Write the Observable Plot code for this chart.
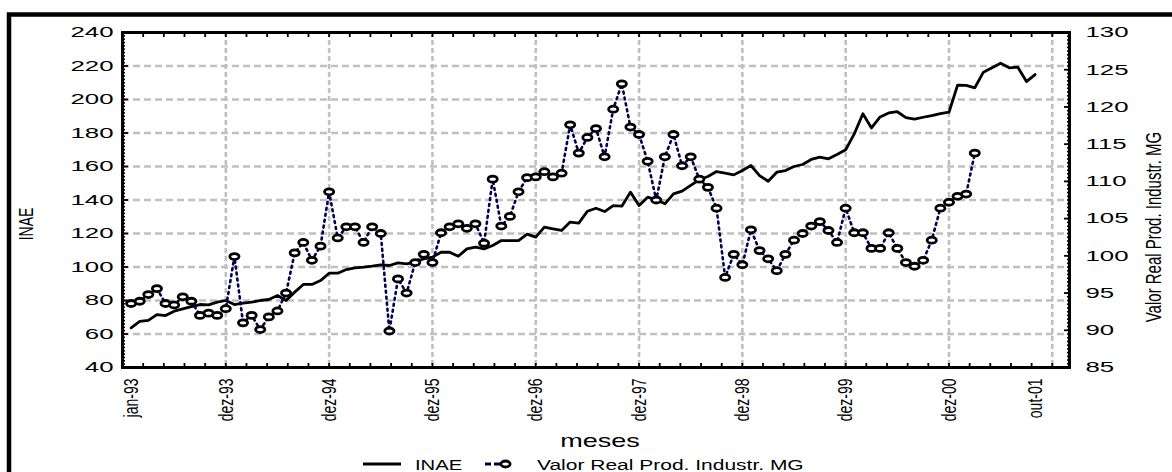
<!DOCTYPE html>
<html><head><meta charset="utf-8">
<script src="https://cdn.jsdelivr.net/npm/d3@7"></script>
<script src="https://cdn.jsdelivr.net/npm/@observablehq/plot@0.6"></script>
<style>body{margin:0;background:#fff;overflow:hidden} svg{display:block}</style>
</head><body><div id="chart"></div>
<script>
// INAE (left axis), monthly jan-93 .. out-01
const inae = [63.7,67.5,68.1,71.6,71.0,73.6,75.0,76.4,77.6,77.4,79.0,80.0,
  77.6,78.4,79.0,80.0,80.6,83.0,80.0,85.0,89.6,89.6,91.9,96.3,
  96.3,98.5,99.5,99.9,100.5,101.3,100.9,102.5,101.9,102.9,104.9,105.9,
  108.8,108.8,106.4,110.8,111.8,110.8,112.8,115.8,115.8,115.8,119.6,117.8,
  123.8,122.8,121.8,126.8,126.2,133.3,135.1,133.1,136.7,136.3,144.7,136.7,
  141.7,140.1,137.7,143.7,145.3,148.7,152.1,154.0,157.0,156.0,155.0,157.6,
  160.6,154.6,151.2,156.6,157.6,160.0,161.2,164.2,165.6,164.6,167.2,170.0,
  179.5,191.5,183.0,189.6,192.0,192.7,189.2,188.3,189.4,190.4,191.6,192.4,
  208.6,208.4,207.0,216.3,218.9,221.7,218.9,219.3,210.7,214.9];
// Valor Real Prod. Industr. MG (right axis), monthly jan-93 .. mar-01
const valor = [93.6,93.9,94.8,95.6,93.6,93.4,94.5,93.9,92.0,92.3,92.0,92.9,
  99.9,91.0,92.0,90.1,91.8,92.6,95.0,100.4,101.8,99.4,101.3,108.6,
  102.4,103.9,103.9,101.8,103.9,103.0,89.9,96.9,95.0,99.1,100.2,99.1,
  103.1,103.9,104.3,103.7,104.3,101.7,110.3,104.0,105.3,108.6,110.5,110.6,
  111.3,110.6,111.1,117.6,113.8,115.9,117.1,113.3,119.7,123.1,117.3,116.3,
  112.7,107.5,113.3,116.3,112.1,113.3,110.3,109.2,106.4,97.1,100.2,98.8,
  103.5,100.7,99.6,98.0,100.2,102.1,103.0,104.0,104.6,103.4,101.8,106.4,
  103.1,103.1,101.0,101.0,103.1,101.0,99.1,98.6,99.4,102.1,106.4,107.2,
  108.0,108.3,113.8];
const tickCases = [1,12,24,36,48,60,72,84,96,106];
const tickLabels = ["jan-93","dez-93","dez-94","dez-95","dez-96","dez-97","dez-98","dez-99","dez-00","out-01"];
const gridCases = [12,24,36,48,60,72,84,96,108];
const leftTicks = [40,60,80,100,120,140,160,180,200,220,240];
const rightTicks = [85,90,95,100,105,110,115,120,125,130];
const legendLabels = ["INAE","Valor Real Prod. Industr. MG"];
const titles = {left: "INAE", right: "Valor Real Prod. Industr. MG", x: "meses"};

const L0 = 40, L1 = 240, R0 = 85, R1 = 130;
const toLeft = v => L0 + (v - R0) * (L1 - L0) / (R1 - R0);
const fromLeft = v => R0 + (v - L0) * (R1 - R0) / (L1 - L0);

const inaeData = inae.map((v, i) => ({t: i + 1, v}));
const valorData = valor.map((v, i) => ({t: i + 1, v: toLeft(v)}));

const ellipse = {draw(ctx) {
  const rx = 4.6, ry = 3.0, k = 0.5523;
  ctx.moveTo(rx, 0);
  ctx.bezierCurveTo(rx, ry*k, rx*k, ry, 0, ry);
  ctx.bezierCurveTo(-rx*k, ry, -rx, ry*k, -rx, 0);
  ctx.bezierCurveTo(-rx, -ry*k, -rx*k, -ry, 0, -ry);
  ctx.bezierCurveTo(rx*k, -ry, rx, -ry*k, rx, 0);
  ctx.closePath();
}};

const FONT = "'Liberation Sans', Arial, sans-serif";
const navy = "#000050";
const gridColor = "#c0c0c0";

const chart = Plot.plot({
  width: 1172, height: 472,
  marginLeft: 122, marginRight: 103, marginTop: 32, marginBottom: 105,
  style: {fontFamily: FONT, background: "white", color: "black"},
  x: {domain: [0, 110]},
  y: {domain: [L0, L1]},
  marks: [
    Plot.ruleY(leftTicks.slice(1, -1), {stroke: gridColor, strokeWidth: 2.6, strokeDasharray: "7,4"}),
    Plot.ruleX(gridCases, {stroke: gridColor, strokeWidth: 2.6, strokeDasharray: "5,3"}),
    Plot.line(inaeData, {x: "t", y: "v", stroke: "black", strokeWidth: 2.8}),
    Plot.line(valorData, {x: "t", y: "v", stroke: navy, strokeWidth: 2.6, strokeDasharray: "2,4"}),
    Plot.dot(valorData, {x: "t", y: "v", symbol: ellipse, stroke: "black", strokeWidth: 2.8, fill: "white"}),
    // minor/major inward ticks
    Plot.axisY({anchor: "left", ticks: d3.range(40, 240.01, 2), tickSize: -3, fill: "none", label: null, strokeWidth: 1.6}),
    Plot.axisY({anchor: "left", ticks: leftTicks, tickSize: -6, fill: "none", label: null, strokeWidth: 1.8}),
    Plot.axisY({anchor: "right", ticks: d3.range(85, 130.01, 0.5).map(toLeft), tickSize: -3, fill: "none", label: null, strokeWidth: 1.6}),
    Plot.axisY({anchor: "right", ticks: rightTicks.map(toLeft), tickSize: -6, fill: "none", label: null, strokeWidth: 1.8}),
    Plot.axisX({anchor: "bottom", ticks: d3.range(0, 110.01, 2.4), tickSize: -4, fill: "none", label: null, strokeWidth: 1.8}),
    Plot.axisX({anchor: "top", ticks: d3.range(0, 110.01, 2.4), tickSize: -4, fill: "none", label: null, strokeWidth: 1.8}),
    // labels
    Plot.axisY({anchor: "left", ticks: leftTicks, tickSize: 0, tickPadding: 9, fontSize: 15, label: null}),
    Plot.axisY({anchor: "right", ticks: rightTicks.map(toLeft), tickSize: 0, tickPadding: 16, fontSize: 15, label: null,
      tickFormat: d => String(Math.round(fromLeft(d)))}),
    Plot.axisX({anchor: "bottom", ticks: tickCases, tickSize: 0, tickPadding: 11, tickRotate: -90, fontSize: 14, label: null,
      tickFormat: d => tickLabels[tickCases.indexOf(d)]}),
    Plot.frame({stroke: "black", strokeWidth: 3}),
    Plot.text([titles.left], {text: d => d, frameAnchor: "left", textAnchor: "middle", dx: -96, dy: 24, rotate: -90, fontSize: 14}),
    Plot.text([titles.right], {text: d => d, frameAnchor: "right", textAnchor: "middle", dx: 84, dy: 27, rotate: -90, fontSize: 15}),
    Plot.text([titles.x], {text: d => d, frameAnchor: "bottom", textAnchor: "middle", dx: 4, dy: 79, fontSize: 18})
  ]
});
document.getElementById("chart").appendChild(chart);

const svg = d3.select(chart);
const addT = s => function() { return (this.getAttribute("transform") || "") + s; };
svg.selectAll('g[aria-label="y-axis tick label"] text').attr("transform", addT(" scale(1.72,1)"));
svg.selectAll('g[aria-label="x-axis tick label"] text').attr("transform", addT(" scale(1,1.5)"));
// stretch titles about their own centre
function stretch(el, sx, sy) {
  const b = el.getBBox();
  const cx = b.x + b.width / 2, cy = b.y + b.height / 2;
  const t = el.getAttribute("transform") || "";
  el.setAttribute("transform", `${t} translate(${cx},${cy}) scale(${sx},${sy}) translate(${-cx},${-cy})`);
}
svg.selectAll("text").each(function() {
  const s = this.textContent;
  if (s === titles.left || s === titles.right) stretch(this, 1, 1.5);
  else if (s === titles.x) stretch(this, 1.5, 1);
});

// outer border
svg.append("rect").attr("x", 9).attr("y", 14.5).attr("width", 1200).attr("height", 500)
  .attr("fill", "none").attr("stroke", "black").attr("stroke-width", 4.5);

// legend
const lg = svg.append("g").attr("font-family", FONT).attr("font-size", 15).attr("fill", "black").attr("text-anchor", "start");
lg.append("line").attr("x1", 363).attr("x2", 401).attr("y1", 464).attr("y2", 464).attr("stroke", "black").attr("stroke-width", 3.2);
lg.append("text").attr("transform", "translate(415,470) scale(1.35,1)").text(legendLabels[0]);
lg.append("line").attr("x1", 485).attr("x2", 502).attr("y1", 464).attr("y2", 464).attr("stroke", navy).attr("stroke-width", 2.8).attr("stroke-dasharray", "6,3");
lg.append("path").attr("transform", "translate(505.5,464)").attr("d", (() => { const p = d3.path(); ellipse.draw(p); return p.toString(); })())
  .attr("fill", "white").attr("stroke", "black").attr("stroke-width", 2.8);
lg.append("text").attr("transform", "translate(537,470) scale(1.4,1)").text(legendLabels[1]);
</script></body></html>
